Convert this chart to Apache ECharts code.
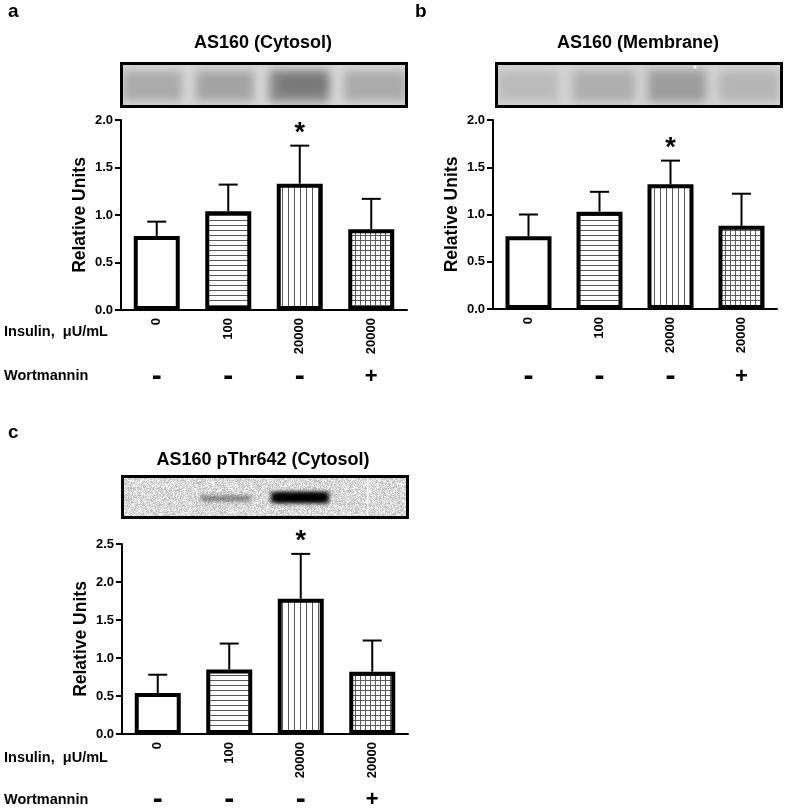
<!DOCTYPE html>
<html><head><meta charset="utf-8">
<script src="https://cdn.jsdelivr.net/npm/echarts@6/dist/echarts.min.js"></script>
<style>html,body{margin:0;padding:0;background:#fff}#c{width:787px;height:809px}</style>
</head><body><div id="c"></div>
<script>
// ---- data ----
const insulin = ['0', '100', '20000', '20000'];
const wortmannin = ['-', '-', '-', '+'];
const significant = [false, false, true, false];

const cytosolMean = [0.78, 1.04, 1.33, 0.85];
const cytosolErr  = [0.15, 0.28, 0.40, 0.32];

const membraneMean = [0.77, 1.03, 1.32, 0.88];
const membraneErr  = [0.23, 0.21, 0.25, 0.34];

const pThrMean = [0.54, 0.85, 1.78, 0.82];
const pThrErr  = [0.24, 0.34, 0.59, 0.41];

const titles = ['AS160 (Cytosol)', 'AS160 (Membrane)', 'AS160 pThr642 (Cytosol)'];
const panelLetters = ['a', 'b', 'c'];

// ---- styling helpers ----
const FONT = '"Liberation Sans", Arial, sans-serif';

function makePattern(kind) {
  const s = kind === 'v' ? 6 : 5;
  const c = document.createElement('canvas');
  c.width = s; c.height = s;
  const g = c.getContext('2d');
  g.fillStyle = '#fff'; g.fillRect(0, 0, s, s);
  g.fillStyle = '#5a5a5a';
  if (kind === 'h' || kind === 'g') g.fillRect(0, 0, s, 1);
  if (kind === 'v' || kind === 'g') g.fillRect(0, 0, 1, s);
  return c;
}
const fills = [
  '#ffffff',
  { image: makePattern('h'), repeat: 'repeat' },
  { image: makePattern('v'), repeat: 'repeat' },
  { image: makePattern('g'), repeat: 'repeat' }
];

// deterministic hash for blot texture
function hash(i, j) {
  const v = Math.sin(i * 12.9898 + j * 78.233) * 43758.5453;
  return v - Math.floor(v);
}

function makeBlot(w, h, bg, lanes, opts) {
  opts = opts || {};
  const c = document.createElement('canvas');
  c.width = w; c.height = h;
  const g = c.getContext('2d');
  g.fillStyle = bg; g.fillRect(0, 0, w, h);
  if (opts.noise) {
    const img = g.getImageData(0, 0, w, h);
    for (let y = 0; y < h; y++) for (let x = 0; x < w; x++) {
      const k = (y * w + x) * 4;
      const n = (hash(x, y) - 0.5) * opts.noise;
      img.data[k] += n; img.data[k + 1] += n; img.data[k + 2] += n;
    }
    g.putImageData(img, 0, 0);
  }
  g.save();
  g.filter = 'blur(' + (opts.blur || 4) + 'px)';
  lanes.forEach(l => {
    g.fillStyle = l.color;
    g.fillRect(l.x, l.y, l.w, l.h);
  });
  g.restore();
  if (opts.extra) opts.extra(g);
  g.lineWidth = 3; g.strokeStyle = '#000';
  g.strokeRect(1.5, 1.5, w - 3, h - 3);
  return c;
}

const blotA = makeBlot(288, 46, '#d8d8d8', [
  { x: 3, y: 9, w: 59, h: 30, color: 'rgba(125,125,125,0.5)' },
  { x: 76, y: 9, w: 58, h: 30, color: 'rgba(120,120,120,0.55)' },
  { x: 149, y: 8, w: 60, h: 32, color: 'rgba(95,95,95,0.65)' },
  { x: 224, y: 9, w: 62, h: 30, color: 'rgba(125,125,125,0.5)' },
  { x: 160, y: 13, w: 48, h: 18, color: 'rgba(80,80,80,0.3)' }
], { blur: 5 });

const blotB = makeBlot(288, 46, '#d4d4d4', [
  { x: 3, y: 9, w: 60, h: 30, color: 'rgba(150,150,150,0.4)' },
  { x: 78, y: 9, w: 62, h: 30, color: 'rgba(135,135,135,0.5)' },
  { x: 153, y: 8, w: 58, h: 32, color: 'rgba(120,120,120,0.6)' },
  { x: 224, y: 9, w: 60, h: 30, color: 'rgba(145,145,145,0.45)' }
], { blur: 5, extra: g => { g.fillStyle = '#fff'; g.beginPath(); g.arc(200, 5, 1.5, 0, 7); g.fill(); } });

const blotC = makeBlot(288, 44, '#d9d9d9', [
  { x: 80, y: 21, w: 50, h: 5, color: 'rgba(70,70,70,0.7)' },
  { x: 150, y: 17, w: 58, h: 11, color: 'rgba(10,10,10,1)' },
  { x: 155, y: 19, w: 48, h: 7, color: 'rgba(0,0,0,1)' }
], { blur: 2, noise: 70, extra: g => { g.fillStyle = 'rgba(255,255,255,0.9)'; g.fillRect(246, 3, 1.5, 38); } });

// ---- panels ----
const panels = [
  { mean: cytosolMean, err: cytosolErr, grid: { left: 121, top: 120, width: 286, height: 190 }, max: 2.0, wOff: 67,
    blot: blotA, blotX: 120, blotY: 62, titleX: 263, titleY: 43, letterX: 8, letterY: 12, insY: 332, wortY: 376 },
  { mean: membraneMean, err: membraneErr, grid: { left: 493, top: 120, width: 284, height: 189 }, max: 2.0, wOff: 68,
    blot: blotB, blotX: 495, blotY: 62, titleX: 638, titleY: 43, letterX: 415, letterY: 12, insY: null, wortY: null },
  { mean: pThrMean, err: pThrErr, grid: { left: 122, top: 544, width: 286, height: 190 }, max: 2.5, wOff: 66,
    blot: blotC, blotX: 121, blotY: 475, titleX: 263, titleY: 460, letterX: 8, letterY: 433, insY: 758, wortY: 800 }
];

const option = { animation: false, backgroundColor: '#fff', grid: [], xAxis: [], yAxis: [], series: [], graphic: [] };

panels.forEach((p, i) => {
  option.grid.push(Object.assign({ outerBoundsMode: 'none', containLabel: false }, p.grid));
  option.xAxis.push({
    type: 'category', gridIndex: i, data: insulin, position: 'bottom',
    axisLine: { lineStyle: { color: '#000', width: 2 } },
    axisTick: { alignWithLabel: true, length: 5, lineStyle: { color: '#000', width: 2 } },
    axisLabel: { rotate: 90, color: '#000', fontWeight: 'bold', fontSize: 13, fontFamily: FONT, margin: 8 }
  });
  option.xAxis.push({
    type: 'category', gridIndex: i, data: wortmannin, position: 'bottom', offset: p.wOff,
    axisLine: { show: false }, axisTick: { show: false },
    axisLabel: {
      color: '#000', fontWeight: 'bold', fontSize: 22, fontFamily: FONT, margin: 0, verticalAlign: 'middle',
      formatter: v => v === '-' ? '{d|-}' : '{p|' + v + '}',
      rich: {
        d: { fontSize: 30, fontWeight: 'bold', fontFamily: FONT, color: '#000', verticalAlign: 'middle' },
        p: { fontSize: 22, fontWeight: 'bold', fontFamily: FONT, color: '#000', verticalAlign: 'middle' }
      }
    }
  });
  option.yAxis.push({
    type: 'value', gridIndex: i, min: 0, max: p.max, interval: 0.5,
    name: 'Relative Units', nameLocation: 'middle', nameGap: 32,
    nameTextStyle: { color: '#000', fontWeight: 'bold', fontSize: 17.5, fontFamily: FONT },
    splitLine: { show: false },
    axisLine: { show: true, lineStyle: { color: '#000', width: 2 } },
    axisTick: { show: true, length: 6, lineStyle: { color: '#000', width: 2 } },
    axisLabel: { color: '#000', fontWeight: 'bold', fontSize: 13, fontFamily: FONT, margin: 8, formatter: v => v.toFixed(1) }
  });
  option.series.push({
    type: 'bar', xAxisIndex: 2 * i, yAxisIndex: i, barWidth: 46,
    data: p.mean.map((v, k) => ({ value: v, itemStyle: { color: fills[k], borderColor: '#000', borderWidth: 4 } })),
    z: 2
  });
  option.series.push({
    type: 'custom', xAxisIndex: 2 * i, yAxisIndex: i, clip: false, z: 3,
    data: p.mean.map((v, k) => [k, v, p.err[k], significant[k] ? 1 : 0]),
    renderItem: (params, api) => {
      const x = api.value(0), m = api.value(1), e = api.value(2), s = api.value(3);
      const p0 = api.coord([x, m]);
      const p1 = api.coord([x, m + e]);
      const cap = 19;
      const children = [
        { type: 'line', shape: { x1: p0[0], y1: p0[1], x2: p1[0], y2: p1[1] }, style: { stroke: '#000', lineWidth: 2 } },
        { type: 'line', shape: { x1: p1[0] - cap / 2, y1: p1[1], x2: p1[0] + cap / 2, y2: p1[1] }, style: { stroke: '#000', lineWidth: 2 } }
      ];
      if (s) children.push({ type: 'text', x: p1[0], y: p1[1] - 12,
        style: { text: '*', font: 'bold 27px ' + FONT, fill: '#000', align: 'center', verticalAlign: 'middle' } });
      return { type: 'group', children };
    }
  });
  option.graphic.push({ type: 'image', left: p.blotX, top: p.blotY, style: { image: p.blot } });
  option.graphic.push({ type: 'text', x: p.titleX, y: p.titleY,
    style: { text: titles[i], font: 'bold 18px ' + FONT, fill: '#000', align: 'center', verticalAlign: 'middle' } });
  option.graphic.push({ type: 'text', x: p.letterX, y: p.letterY,
    style: { text: panelLetters[i], font: 'bold 19px ' + FONT, fill: '#000', align: 'left', verticalAlign: 'middle' } });
  if (p.insY !== null) {
    option.graphic.push({ type: 'text', x: 4, y: p.insY,
      style: { text: 'Insulin,  \u03bcU/mL', font: 'bold 14.5px ' + FONT, fill: '#000', align: 'left', verticalAlign: 'middle' } });
    option.graphic.push({ type: 'text', x: 4, y: p.wortY,
      style: { text: 'Wortmannin', font: 'bold 14.5px ' + FONT, fill: '#000', align: 'left', verticalAlign: 'middle' } });
  }
});

const chart = echarts.init(document.getElementById('c'));
chart.setOption(option);
</script>
</body></html>
